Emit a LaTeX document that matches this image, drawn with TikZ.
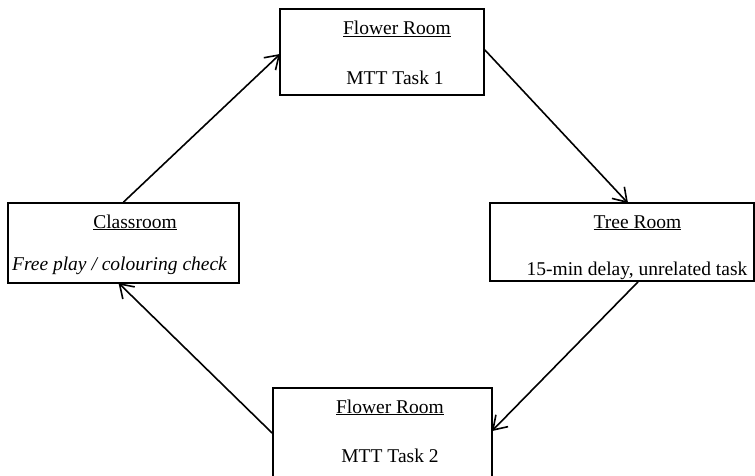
\documentclass[tikz,border=0pt]{standalone}
\usepackage{fontspec}
\setmainfont{Liberation Serif}
\usetikzlibrary{calc}
\begin{document}
\begin{tikzpicture}[x=1pt,y=1pt,
  box/.style={draw,line width=1.8pt,rectangle,inner sep=0pt},
  lbl/.style={anchor=base,inner sep=0pt,font=\fontsize{19.5}{23}\selectfont},
  flow/.style={line width=1.6pt},
  barb/.style={line width=1.6pt,line join=miter}]
\useasboundingbox (0,0) rectangle (755,-476);
% boxes
\node[box,minimum width=204pt,minimum height=86pt] (fr1) at (382,-52) {};
\node[box,minimum width=231pt,minimum height=80pt] (cls) at (123.5,-243) {};
\node[box,minimum width=264pt,minimum height=78pt] (tree) at (622,-242) {};
\node[box,minimum width=219pt,minimum height=90pt] (fr2) at (382.5,-433) {};
% texts
\node[lbl] (fr1a) at (397,-35) {\underline{Flower Room}};
\node[lbl] (fr1b) at (395,-85) {MTT Task 1};
\node[lbl] (clsa) at (135,-228) {\underline{Classroom}};
\node[lbl] (clsb) at (119.5,-270) {\itshape Free play / colouring check};
\node[lbl] (treea) at (637.5,-228) {\underline{Tree Room}};
\node[lbl] (treeb) at (637,-275) {15-min delay, unrelated task};
\node[lbl] (fr2a) at (390,-413) {\underline{Flower Room}};
\node[lbl] (fr2b) at (390,-462) {MTT Task 2};
% arrow end points
\coordinate (a1s) at (cls.north);
\coordinate (a1e) at ($(fr1.west)+(0,-3)$);
\coordinate (a2s) at ($(fr1.east)+(0,2)$);
\coordinate (a2e) at ($(tree.north)+(5,0)$);
\coordinate (a3s) at ($(tree.south)+(16,0)$);
\coordinate (a3e) at ($(fr2.east)+(0,3)$);
\coordinate (a4s) at (fr2.west);
\coordinate (a4e) at ($(cls.south)+(-4,0)$);
% connectors with barbed heads
\foreach \s/\e in {a1s/a1e,a2s/a2e,a3s/a3e,a4s/a4e}{
  \draw[flow] (\s) -- (\e);
  \draw[barb] ($(\e)!13pt!(\s)!8.5pt!90:(\e)$) -- (\e) -- ($(\e)!13pt!(\s)!8.5pt!-90:(\e)$);
}
\end{tikzpicture}
\end{document}
